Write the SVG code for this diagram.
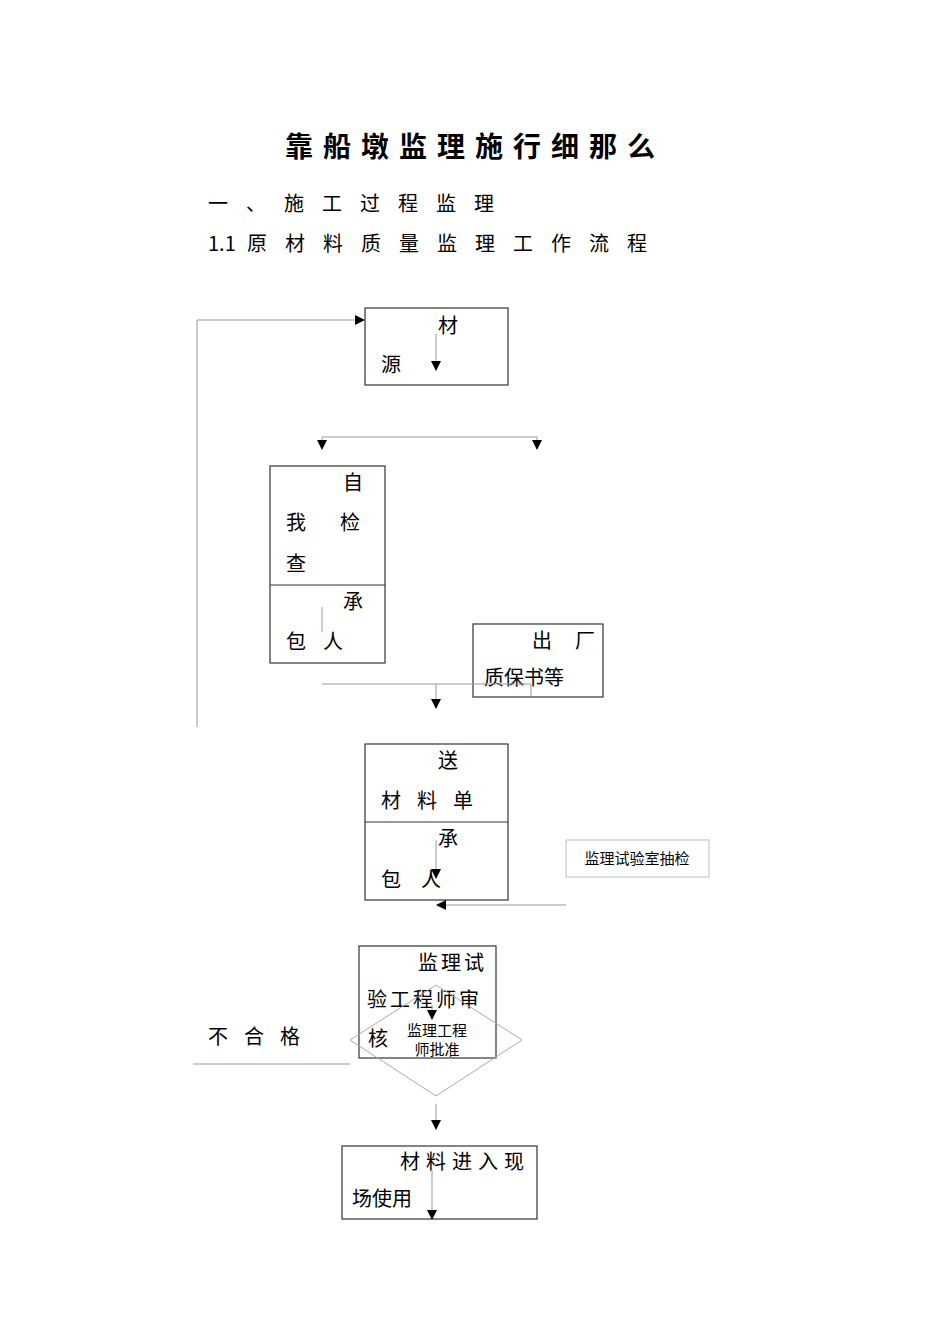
<svg xmlns="http://www.w3.org/2000/svg" width="950" height="1344" viewBox="0 0 950 1344">
<style>
text{font-family:"Noto Sans CJK SC","Liberation Serif",serif;fill:#000}
.t{font-size:20px}
.b{fill:#fff;stroke:#333;stroke-width:1.2}
.c{fill:none;stroke:#999;stroke-width:1}
</style>
<defs>
<marker id="a" markerWidth="10" markerHeight="10" refX="9" refY="5" orient="auto" markerUnits="userSpaceOnUse"><path d="M0,0L10,5L0,10z" fill="#000"/></marker>
</defs>
<rect width="950" height="1344" fill="#fff"/>
<text x="285" y="157" font-size="28" font-weight="bold" letter-spacing="10">靠船墩监理施行细那么</text>
<text x="208" y="211" class="t" letter-spacing="18">一、施工过程监理</text>
<text x="208" y="251" class="t">1.1</text>
<text x="247" y="251" class="t" letter-spacing="18">原材料质量监理工作流程</text>

<g id="n1"><rect x="365" y="308" width="143" height="77" class="b"/><text x="438" y="333" class="t">材</text><text x="381" y="372" class="t">源</text></g>
<g id="n2"><rect x="270" y="466" width="115" height="197" class="b"/><line x1="270" y1="585" x2="385" y2="585" stroke="#333"/>
<text x="343" y="490" class="t">自</text><text x="286" y="530" class="t">我</text><text x="340" y="530" class="t">检</text><text x="286" y="571" class="t">查</text><text x="343" y="609" class="t">承</text><text x="286" y="649" class="t">包</text><text x="323" y="649" class="t">人</text></g>
<g id="n3"><rect x="473" y="624" width="130" height="73" class="b"/><text x="532" y="648" class="t">出</text><text x="575" y="648" class="t">厂</text><text x="484" y="685" class="t">质保书等</text></g>
<g id="n4"><rect x="365" y="744" width="143" height="156" class="b"/><line x1="365" y1="822" x2="508" y2="822" stroke="#333"/>
<text x="438" y="768" class="t">送</text><text x="381" y="808" class="t" letter-spacing="16">材料单</text><text x="438" y="846" class="t">承</text><text x="381" y="887" class="t" letter-spacing="20">包人</text></g>
<g id="n5"><rect x="566" y="840" width="143" height="37" fill="#fff" stroke="#bbb"/><text x="637" y="864" font-size="15" text-anchor="middle">监理试验室抽检</text></g>
<g id="n6"><rect x="359" y="946" width="137" height="112" class="b"/><text x="418" y="970" class="t" letter-spacing="3">监理试</text><text x="367" y="1007" class="t" letter-spacing="3">验工程师审</text><text x="368" y="1046" class="t">核</text></g>
<g id="n7"><polygon points="436,985 522,1040 436,1096 350,1040" fill="none" stroke="#aaa"/><text x="437" y="1036" font-size="15" text-anchor="middle">监理工程</text><text x="437" y="1055" font-size="15" text-anchor="middle">师批准</text></g>
<g id="n8"><rect x="342" y="1146" width="195" height="73" class="b"/><text x="400" y="1169" class="t" letter-spacing="6">材料进入现</text><text x="352" y="1206" class="t">场使用</text></g>
<text x="208" y="1044" class="t" letter-spacing="16">不合格</text>

<g id="connectors">
<path d="M197,727V320H364" class="c" marker-end="url(#a)"/>
<path d="M436,334V370" class="c" marker-end="url(#a)"/>
<path d="M322,437H537" class="c"/>
<path d="M322,437V449" class="c" marker-end="url(#a)"/>
<path d="M537,437V449" class="c" marker-end="url(#a)"/>
<path d="M322,607V632" class="c"/>
<path d="M322,684H531V697" class="c"/>
<path d="M436,684V708" class="c" marker-end="url(#a)"/>
<path d="M436,840V878" class="c" marker-end="url(#a)"/>
<path d="M566,905H437" class="c" marker-end="url(#a)"/>
<path d="M432,1005V1019" class="c" marker-end="url(#a)"/>
<path d="M193,1064H350" class="c"/>
<path d="M436,1104V1129" class="c" marker-end="url(#a)"/>
<path d="M432,1170V1219" class="c" marker-end="url(#a)"/>
</g>
</svg>
